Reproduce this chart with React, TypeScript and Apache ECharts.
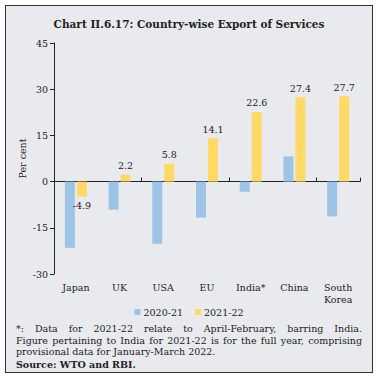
import React, { useEffect, useRef } from "react";
import * as echarts from "echarts";

const categories = ["Japan", "UK", "USA", "EU", "India*", "China", "South\nKorea"];
const values2020 = [-21.5, -9.1, -20.2, -11.7, -3.3, 8.2, -11.3];
const values2021 = [-4.9, 2.2, 5.8, 14.1, 22.6, 27.4, 27.7];
const seriesNames = ["2020-21", "2021-22"];
const yMin = -30;
const yMax = 45;
const yStep = 15;

const titleText = "Chart II.6.17: Country-wise Export of Services";
const noteLines = [
  "*: Data for 2021-22 relate to April-February, barring India.",
  "Figure pertaining to India for 2021-22 is for the full year, comprising",
  "provisional data for January-March 2022.",
];
const sourceText = "Source: WTO and RBI.";

const FONT = "'DejaVu Serif', serif";

export default function App() {
  const ref = useRef<HTMLDivElement>(null);
  useEffect(() => {
    document.body.style.margin = "0";
    const chart = echarts.init(ref.current!, null, { renderer: "svg" });
    chart.setOption({
      animation: false,
      backgroundColor: "transparent",
      textStyle: { fontFamily: FONT },
      title: {
        text: titleText,
        left: "center",
        top: 13,
        textStyle: { fontFamily: FONT, fontSize: 10.5, fontWeight: "bold", color: "#222" },
      },
      legend: {
        data: seriesNames,
        top: 302,
        left: "center",
        icon: "rect",
        itemWidth: 6,
        itemHeight: 6,
        itemGap: 12,
        textStyle: { fontFamily: FONT, fontSize: 9.5, color: "#222", padding: [0, 0, 0, -2] },
      },
      grid: { left: 54, right: 18, top: 43, bottom: 105 },
      xAxis: [
        {
          type: "category",
          data: categories,
          position: "bottom",
          axisLine: { show: false, onZero: false },
          axisTick: { show: false },
          axisLabel: { fontFamily: FONT, fontSize: 9.5, color: "#222", margin: 7, lineHeight: 12 },
        },
        {
          type: "category",
          data: categories,
          position: "top",
          axisLine: { show: true, onZero: true, lineStyle: { color: "#222", width: 1 } },
          axisTick: { show: true, inside: false, length: 4, lineStyle: { color: "#222" } },
          axisLabel: { show: false },
        },
      ],
      yAxis: {
        type: "value",
        min: yMin,
        max: yMax,
        interval: yStep,
        name: "Per cent",
        nameLocation: "middle",
        nameGap: 27,
        nameMoveOverlap: false,
        nameTextStyle: { fontFamily: FONT, fontSize: 9.5, color: "#222" },
        axisLine: { show: true, lineStyle: { color: "#222", width: 1 } },
        axisTick: { show: true, length: 4, lineStyle: { color: "#222" } },
        axisLabel: { fontFamily: FONT, fontSize: 9.5, color: "#222", margin: 6 },
        splitLine: { show: false },
      },
      series: [
        {
          name: seriesNames[0],
          type: "bar",
          xAxisIndex: 1,
          data: values2020,
          barWidth: 10,
          barGap: "20%",
          itemStyle: { color: "#9DC3E6" },
        },
        {
          name: seriesNames[1],
          type: "bar",
          xAxisIndex: 1,
          data: values2021.map((v) => ({
            value: v,
            label: { position: v < 0 ? "bottom" : "top" },
          })),
          barWidth: 10,
          itemStyle: { color: "#FFD966" },
          label: {
            show: true,
            fontFamily: FONT,
            fontSize: 9.5,
            color: "#222",
            distance: 4,
            formatter: (p: any) => p.value.toFixed(1),
          },
        },
      ],
    });
    return () => chart.dispose();
  }, []);

  const lineStyle: React.CSSProperties = {
    fontFamily: FONT,
    fontSize: 9.5,
    lineHeight: "11.5px",
    color: "#222",
    whiteSpace: "nowrap",
  };

  return (
    <div style={{ position: "relative", width: 378, height: 379, background: "#fff" }}>
      <div
        style={{
          position: "absolute",
          left: 5,
          top: 5,
          width: 366,
          height: 366,
          border: "1.5px solid #333",
          background: "#E9EAEE",
        }}
      />
      <div ref={ref} style={{ position: "absolute", left: 0, top: 0, width: 378, height: 379 }} />
      <div style={{ position: "absolute", left: 16, top: 323, width: 346 }}>
        {noteLines.map((t, i) => (
          <div
            key={i}
            style={{
              ...lineStyle,
              whiteSpace: i < 2 ? "normal" : "nowrap",
              textAlign: i < 2 ? "justify" : "left",
              textAlignLast: i < 2 ? "justify" : "left",
            }}
          >
            {t}
          </div>
        ))}
        <div style={{ ...lineStyle, fontWeight: "bold", marginTop: 1.5 }}>{sourceText}</div>
      </div>
    </div>
  );
}
